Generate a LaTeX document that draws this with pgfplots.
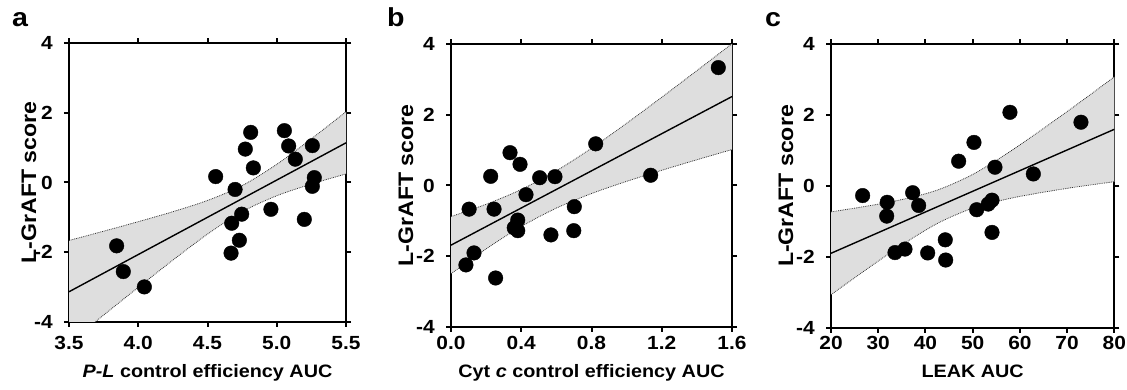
\documentclass[border=0pt]{standalone}
\usepackage{fontspec}
\setmainfont{Liberation Sans}[FakeStretch=1.1]
\usepackage{pgfplots}
\pgfplotsset{compat=1.18}
\usepgfplotslibrary{fillbetween}

\pgfplotsset{
  myax/.style={
    scale only axis, anchor=south west,
    axis line style={line width=2.3pt},
    tick style={line width=2pt, black},
    major tick length=5pt,
    tick align=outside,
    ymin=-4, ymax=4, ytick={-4,-2,0,2,4},
    /pgf/number format/assume math mode=true,
    ticklabel style={font=\fontsize{19}{22}\selectfont\bfseries},
    xticklabel style={anchor=base, inner sep=0pt},
    yticklabel style={anchor=east, inner sep=0pt, xshift=-11pt},
    xlabel style={font=\fontsize{18}{21}\selectfont\bfseries, inner sep=0pt},
    ylabel style={font=\fontsize{21}{24}\selectfont\bfseries, inner sep=0pt},
    ylabel={L-GrAFT score},
    clip=true,
  },
  band/.style={fill=gray!26, draw=none},
  edge/.style={densely dotted, line width=0.8pt, black!80},
  fit/.style={line width=1.4pt, black},
  pts/.style={only marks, mark=*, mark size=7.3pt, black},
}

\begin{document}
\begin{tikzpicture}
\path (0,0) rectangle (1127pt,390pt);

% ---------------- panel a ----------------
\begin{axis}[myax,
  at={(69pt,68.3pt)}, width=277pt, height=278.4pt,
  xmin=3.5, xmax=5.5, xtick={3.5,4,4.5,5,5.5},
  xticklabels={3.5,4.0,4.5,5.0,5.5},
  xticklabel style={yshift=-23pt},
  xlabel={\textit{P-L} control efficiency AUC},
  xlabel style={at={(axis description cs:0.5,-0.2011)}, anchor=base},
  ylabel style={at={(axis description cs:-0.1191,0.5)}, anchor=base},
]
\addplot[edge, smooth, name path=Ua] coordinates {(3.5,-1.666)(3.75,-1.3995)(4.0,-1.126)(4.25,-0.839)(4.5,-0.516)(4.75,-0.090)(5.0,0.521)(5.25,1.255)(5.5,2.033)};
\addplot[edge, smooth, name path=La] coordinates {(3.5,-4.614)(3.75,-3.8105)(4.0,-3.014)(4.25,-2.231)(4.5,-1.484)(4.75,-0.840)(5.0,-0.381)(5.25,-0.045)(5.5,0.247)};
\addplot[band] fill between[of=Ua and La];
\addplot[fit] coordinates {(3.5,-3.14)(5.5,1.14)};
\addplot[pts] table {
x y
3.844 -1.82
3.892 -2.56
4.044 -3.00
4.559 0.17
4.699 -0.20
4.675 -1.17
4.747 -0.91
4.730 -1.66
4.670 -2.03
4.773 0.96
4.812 1.44
4.831 0.42
4.958 -0.77
5.055 1.49
5.086 1.05
5.134 0.67
5.199 -1.06
5.257 1.06
5.271 0.14
5.257 -0.11
};
\end{axis}

% ---------------- panel b ----------------
\begin{axis}[myax,
  at={(451pt,63.3pt)}, width=281pt, height=282.4pt,
  xmin=0, xmax=1.6, xtick={0,0.4,0.8,1.2,1.6},
  xticklabels={0.0,0.4,0.8,1.2,1.6},
  xticklabel style={yshift=-18pt},
  xlabel={Cyt \textit{c} control efficiency AUC},
  xlabel style={at={(axis description cs:0.5,-0.1806)}, anchor=base},
  ylabel style={at={(axis description cs:-0.1352,0.5)}, anchor=base},
]
\addplot[edge, smooth, name path=Ub] coordinates {(0,-0.88)(0.2,-0.532)(0.4,-0.114)(0.6,0.416)(0.8,1.056)(1.0,1.763)(1.2,2.501)(1.4,3.255)(1.6,4.018)};
\addplot[edge, smooth, name path=Lb] coordinates {(0,-2.50)(0.2,-1.796)(0.4,-1.162)(0.6,-0.640)(0.8,-0.228)(1.0,0.117)(1.2,0.431)(1.4,0.729)(1.6,1.018)};
\addplot[band] fill between[of=Ub and Lb];
\addplot[fit] coordinates {(0,-1.69)(1.6,2.52)};
\addplot[pts] table {
x y
0.085 -2.25
0.103 -0.67
0.131 -1.91
0.226 0.26
0.245 -0.67
0.254 -2.62
0.336 0.93
0.393 0.60
0.427 -0.26
0.380 -0.98
0.360 -1.20
0.380 -1.28
0.505 0.22
0.592 0.25
0.569 -1.40
0.702 -0.60
0.699 -1.28
0.824 1.18
1.137 0.29
1.522 3.34
};
\end{axis}

% ---------------- panel c ----------------
\begin{axis}[myax,
  at={(831pt,62.3pt)}, width=283.3pt, height=283.4pt,
  xmin=20, xmax=80, xtick={20,30,40,50,60,70,80},
  xticklabel style={yshift=-17pt},
  xlabel={LEAK AUC},
  xlabel style={at={(axis description cs:0.5,-0.1764)}, anchor=base},
  ylabel style={at={(axis description cs:-0.1341,0.5)}, anchor=base},
]
\addplot[edge, smooth, name path=Uc] coordinates {(20,-0.73)(27.5,-0.571)(35,-0.383)(42.5,-0.116)(50,0.325)(57.5,0.937)(65,1.625)(72.5,2.342)(80,3.08)};
\addplot[edge, smooth, name path=Lc] coordinates {(20,-3.07)(27.5,-2.354)(35,-1.667)(42.5,-1.059)(50,-0.625)(57.5,-0.362)(65,-0.175)(72.5,-0.017)(80,0.12)};
\addplot[band] fill between[of=Uc and Lc];
\addplot[fit] coordinates {(20,-1.90)(80,1.60)};
\addplot[pts] table {
x y
26.70 -0.27
31.90 -0.46
31.80 -0.85
33.55 -1.88
35.67 -1.78
37.30 -0.19
38.57 -0.55
40.48 -1.89
44.20 -1.52
44.29 -2.09
47.04 0.70
50.28 1.23
50.85 -0.67
53.30 -0.51
54.10 -0.40
54.10 -1.31
54.73 0.53
57.90 2.08
62.85 0.34
72.94 1.80
};
\end{axis}

\node[anchor=base west, inner sep=0pt, font=\fontsize{26}{30}\selectfont\bfseries] at (12pt,363pt) {a};
\node[anchor=base west, inner sep=0pt, font=\fontsize{26}{30}\selectfont\bfseries] at (387pt,363pt) {b};
\node[anchor=base west, inner sep=0pt, font=\fontsize{26}{30}\selectfont\bfseries] at (765pt,363pt) {c};
\end{tikzpicture}
\end{document}
